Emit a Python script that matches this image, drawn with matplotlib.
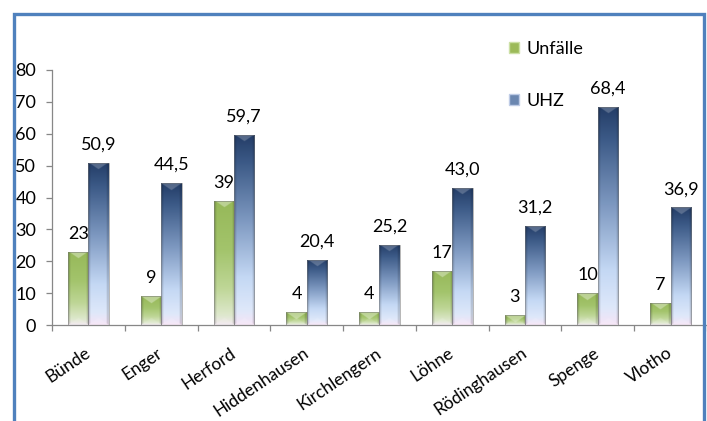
import numpy as np
import matplotlib
matplotlib.use('Agg')
import matplotlib.pyplot as plt
from matplotlib.patches import Rectangle

categories = ["Bünde", "Enger", "Herford", "Hiddenhausen", "Kirchlengern",
              "Löhne", "Rödinghausen", "Spenge", "Vlotho"]
unfaelle = [23, 9, 39, 4, 4, 17, 3, 10, 7]
uhz = [50.9, 44.5, 59.7, 20.4, 25.2, 43.0, 31.2, 68.4, 36.9]
series_names = ["Unfälle", "UHZ"]
y_ticks = [0, 10, 20, 30, 40, 50, 60, 70, 80]

plt.rcParams['font.family'] = ['Lato', 'DejaVu Sans']

W, H = 707, 421
fig = plt.figure(figsize=(W / 100, H / 100), dpi=100)
ax = fig.add_axes([52 / W, 1 - 325 / H, (707 - 52) / W, (325 - 70) / H])
x = np.arange(len(categories))
bw = 0.28
FS = 13

gray = (0.53, 0.53, 0.53)

# gradient stops (fraction from bottom, rgb)
green_stops = [(0.0, (242, 232, 240)), (0.08, (222, 232, 205)), (0.3, (190, 214, 150)),
               (0.6, (163, 196, 108)), (1.0, (150, 184, 88))]
blue_stops = [(0.0, (246, 228, 246)), (0.08, (222, 232, 250)), (0.25, (196, 216, 244)),
              (0.55, (125, 152, 192)), (0.85, (60, 90, 135)), (1.0, (35, 60, 102))]


def interp_colors(stops, t):
    pos = np.array([s[0] for s in stops])
    cols = np.array([s[1] for s in stops], dtype=float) / 255.0
    return np.stack([np.interp(t, pos, cols[:, k]) for k in range(3)], axis=-1)


def gradient_fill(rect, stops, top_light):
    x0, y0 = rect.get_x(), rect.get_y()
    w, h = rect.get_width(), rect.get_height()
    p0 = ax.transData.transform((x0, y0))
    p1 = ax.transData.transform((x0 + w, y0 + h))
    wpx, hpx = p1[0] - p0[0], p1[1] - p0[1]
    nx = max(int(round(wpx * 4)), 4)
    ny = max(int(round(hpx * 4)), 4)
    t = (np.arange(ny) + 0.5) / ny
    base = interp_colors(stops, t)
    img = np.repeat(base[:, None, :], nx, axis=1)
    px = (np.arange(nx) + 0.5) / nx * wpx
    py = (np.arange(ny) + 0.5) / ny * hpx
    PX, PY = np.meshgrid(px, py)
    dside = np.minimum(PX, wpx - PX)
    dt = hpx - PY
    db = PY
    top = dt < 0.7 * dside
    bot = (db < 0.7 * dside) & ~top
    side = (dside < 2.2) & ~top & ~bot
    img[top] = img[top] * (1 - top_light) + top_light
    img[bot] = img[bot] * 0.88 + 0.12
    img[side] = img[side] * 0.86
    im = ax.imshow(img, extent=[x0, x0 + w, y0, y0 + h], origin='lower',
                   aspect='auto', interpolation='bilinear', zorder=2.5)
    im.set_clip_path(rect)


bars_g = ax.bar(x - bw / 2, unfaelle, bw, facecolor='none',
                edgecolor=(0.45, 0.45, 0.45, 0.6), linewidth=0.6, zorder=3)
bars_b = ax.bar(x + bw / 2, uhz, bw, facecolor='none',
                edgecolor=(0.45, 0.45, 0.45, 0.6), linewidth=0.6, zorder=3)
ax.set_xlim(-0.5, len(categories) - 0.5)
ax.set_ylim(0, 80)
for r in bars_g:
    gradient_fill(r, green_stops, 0.35)
for r in bars_b:
    gradient_fill(r, blue_stops, 0.22)
ax.set_xlim(-0.5, len(categories) - 0.5)
ax.set_ylim(0, 80)

for xi, v in zip(x - bw / 2, unfaelle):
    ax.annotate(f"{v}", (xi, v), xytext=(0, 13), textcoords='offset points',
                ha='center', va='center', fontsize=FS, zorder=1.5)
for xi, v in zip(x + bw / 2, uhz):
    ax.annotate(f"{v:.1f}".replace('.', ','), (xi, v), xytext=(0, 13),
                textcoords='offset points', ha='center', va='center',
                fontsize=FS, zorder=1.5)

for s in ['top', 'right']:
    ax.spines[s].set_visible(False)
for s in ['left', 'bottom']:
    ax.spines[s].set_color(gray)
    ax.spines[s].set_linewidth(0.9)

ax.set_yticks(y_ticks)
ax.tick_params(axis='y', length=4.3, width=0.9, color=gray, pad=7, labelsize=FS)
ax.set_xticks(x)
ax.set_xticklabels(categories, fontsize=12.5)
ax.set_xticks(np.arange(-0.5, len(categories), 1), minor=True)
ax.tick_params(axis='x', which='major', length=0, pad=19)
ax.tick_params(axis='x', which='minor', length=4.3, width=0.9, color=gray)
for lab in ax.get_xticklabels():
    lab.set_rotation(34)
    lab.set_ha('right')
    lab.set_va('center')
    lab.set_rotation_mode('anchor')

handles = [Rectangle((0, 0), 1, 1, facecolor=(0.61, 0.73, 0.35), edgecolor=(0.8, 0.88, 0.65), linewidth=1),
           Rectangle((0, 0), 1, 1, facecolor=(0.42, 0.53, 0.69), edgecolor=(0.75, 0.8, 0.9), linewidth=1)]
fig.legend(handles, series_names, loc='upper left', bbox_to_anchor=(509 / W, 1 - 41 / H),
           bbox_transform=fig.transFigure, frameon=False, fontsize=FS,
           handlelength=0.55, handleheight=0.55, handletextpad=0.4,
           labelspacing=2.0, borderpad=0, borderaxespad=0)

border = Rectangle((13.5 / W, -0.1), (703.5 - 13.5) / W, 1.1 - 13.5 / H,
                   transform=fig.transFigure, fill=False, edgecolor='#4F81BD',
                   linewidth=2.4, clip_on=False, zorder=10)
fig.patches.append(border)

fig.savefig('out.png', dpi=100)
